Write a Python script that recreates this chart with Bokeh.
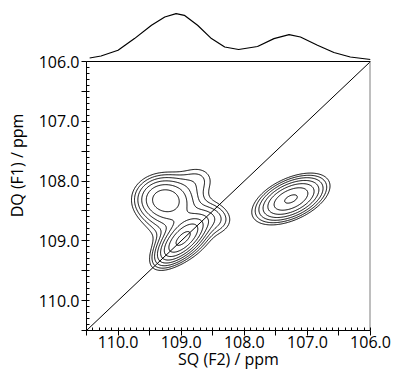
import numpy as np
from bokeh.plotting import figure
from bokeh.models import Range1d, FixedTicker, CustomJSTickFormatter, Span
from bokeh.embed import file_html
from bokeh.resources import INLINE

# ---------------- data ----------------
f2_limits = [110.5, 106.0]          # SQ axis, left -> right
f1_limits = [110.5, 106.0]          # DQ axis, bottom -> top
major_ticks = [110.5, 110.0, 109.5, 109.0, 108.5, 108.0, 107.5, 107.0, 106.5, 106.0]

# 1D projection (F2)
proj_ppm = [110.45, 110.27, 110.00, 109.74, 109.47, 109.26, 109.08, 108.95, 108.74,
            108.52, 108.31, 108.09, 107.79, 107.53, 107.29, 107.11, 106.84, 106.58,
            106.32, 106.00]
proj_int = [4.0, 6.0, 11.7, 23.4, 36.7, 45.0, 48.4, 46.7, 36.7,
            23.4, 15.0, 12.5, 15.5, 23.4, 27.4, 25.0, 16.7, 9.5,
            5.0, 2.5]

# 2D cross peaks (centre, intensity, widths, orientation)
#            base    A       B       D       E       C
peak_f2 = [109.00, 109.28, 108.98, 108.72, 108.40, 107.26]
peak_f1 = [108.65, 108.30, 108.98, 107.95, 108.65, 108.30]
peak_amp = [0.28, 0.70, 1.20, 0.13, 0.15, 0.95]
peak_w_major = [0.35, 0.26, 0.30, 0.20, 0.16, 0.33]
peak_w_minor = [0.40, 0.22, 0.13, 0.17, 0.16, 0.17]
peak_angle = [0.0, 0.0, 45.0, 0.0, 0.0, 27.0]
contour_levels = [0.12, 0.168, 0.235, 0.33, 0.46, 0.645, 0.9, 1.26]

# ---------------- field ----------------
gx = np.linspace(106.0, 110.5, 361)
gy = np.linspace(106.0, 110.5, 361)
X, Y = np.meshgrid(gx, gy)
Z = np.zeros_like(X)
for cx, cy, a, wa, wb, th in zip(peak_f2, peak_f1, peak_amp, peak_w_major, peak_w_minor, peak_angle):
    t = np.deg2rad(th)
    dx, dy = X - cx, Y - cy
    u = dx * np.cos(t) + dy * np.sin(t)
    v = -dx * np.sin(t) + dy * np.cos(t)
    Z += a * np.exp(-0.5 * ((u / wa) ** 2 + (v / wb) ** 2))

# ---------------- layout constants ----------------
FONT = "Open Sans"
FS = "16px"
FRAME_W = 284
FRAME_H = 330
TOP_H = 61          # band above the 2D map that holds the projection

ppm_span = f1_limits[0] - f1_limits[1]
y_top = f1_limits[1] - TOP_H * ppm_span / (FRAME_H - TOP_H)

p = figure(frame_width=FRAME_W, frame_height=FRAME_H,
           x_range=Range1d(f2_limits[0], f2_limits[1]),
           y_range=Range1d(f1_limits[0], y_top),
           output_backend="svg", toolbar_location=None,
           min_border_left=86, min_border_right=25, min_border_top=0, min_border_bottom=0)
p.outline_line_color = None
p.grid.visible = False
p.background_fill_color = "white"
p.border_fill_color = "white"

# projection on its own scale (1 unit = 1 px, baseline at the map top)
p.extra_y_ranges = {"proj": Range1d(TOP_H + 0.5 - FRAME_H, TOP_H + 0.5)}
p.line(proj_ppm, proj_int, y_range_name="proj", line_color="black", line_width=1.2)

# 2D contours
p.contour(x=gx, y=gy, z=Z, levels=contour_levels, line_color="black", line_width=1)
p.line(f2_limits, f1_limits, line_color="black", line_width=1)

# frame edges
p.add_layout(Span(location=f1_limits[1], dimension="width", line_color="black", line_width=1.2))
p.segment(x0=[f2_limits[1]], y0=[f1_limits[0]], x1=[f2_limits[1]], y1=[f1_limits[1]],
          line_color="#7f7f7f", line_width=2)

minor = [round(v, 1) for v in np.arange(106.0, 110.51, 0.1)]
fmt = CustomJSTickFormatter(code="return (Math.abs(tick - Math.round(tick)) < 1e-6) ? tick.toFixed(1) : '';")
for ax in (p.xaxis[0], p.yaxis[0]):
    ax.ticker = FixedTicker(ticks=major_ticks, minor_ticks=minor)
    ax.formatter = fmt
    ax.major_tick_out = 5
    ax.major_tick_in = 0
    ax.minor_tick_in = 3
    ax.minor_tick_out = 0
    ax.axis_line_color = "black"
    ax.major_tick_line_color = "black"
    ax.minor_tick_line_color = "black"
    ax.major_label_text_font = FONT
    ax.major_label_text_font_size = FS
    ax.major_label_text_color = "black"
    ax.axis_label_text_font = FONT
    ax.axis_label_text_font_size = FS
    ax.axis_label_text_font_style = "normal"
    ax.axis_label_text_color = "black"

p.yaxis.bounds = (f1_limits[1], f1_limits[0])
p.xaxis.major_label_standoff = 0
p.yaxis.major_label_standoff = 2
p.xaxis.axis_label = "SQ (F2) / ppm"
p.yaxis.axis_label = "DQ (F1) / ppm"
p.xaxis.axis_label_standoff = -3
p.yaxis.axis_label_standoff = 8

open("out.html", "w").write(file_html(p, INLINE))
